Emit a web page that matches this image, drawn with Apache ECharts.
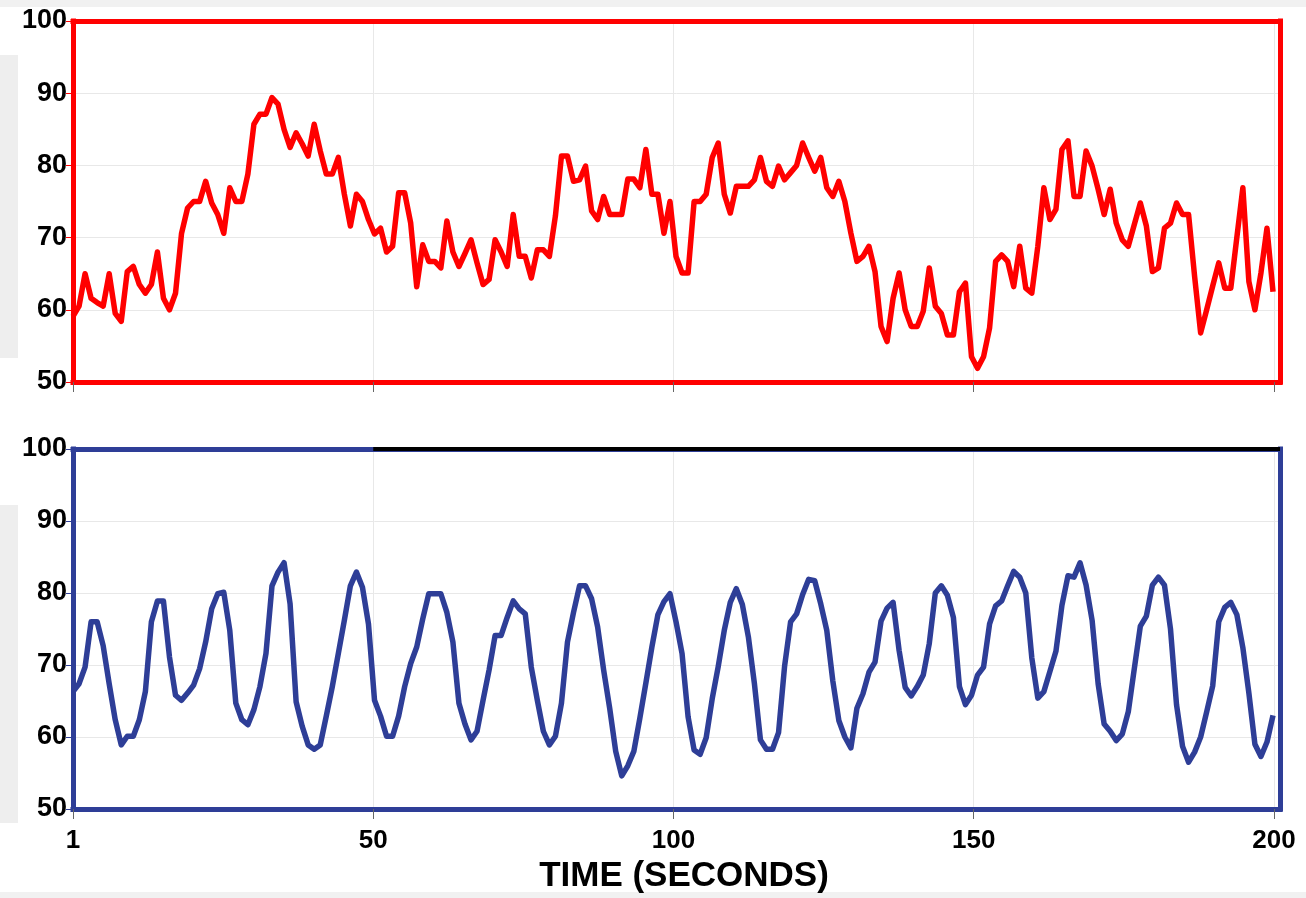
<!DOCTYPE html>
<html>
<head>
<meta charset="utf-8">
<script src="https://cdn.jsdelivr.net/npm/echarts@6/dist/echarts.min.js"></script>
<style>
html,body{margin:0;padding:0;background:#ffffff;}
#chart{width:1306px;height:898px;}
</style>
</head>
<body>
<div id="chart"></div>
<script>
// ---- data ----
const xTickValues = [0, 50, 100, 150, 200];
const xTickLabels = ['1', '50', '100', '150', '200'];
const axisTitle = 'TIME (SECONDS)';

const topSeries = [
  59.1, 60.5, 65, 61.6, 61, 60.5, 65, 59.5, 58.4, 65.3,
  66, 63.5, 62.3, 63.5, 68, 61.6, 60, 62.3, 70.6, 74.1,
  75, 75, 77.8, 74.8, 73.2, 70.6, 76.9, 75, 75, 78.8,
  85.7, 87.1, 87.1, 89.4, 88.5, 85, 82.5, 84.5, 83, 81.3,
  85.7, 82, 78.8, 78.8, 81.1, 76, 71.6, 76, 75, 72.5,
  70.5, 71.3, 68, 68.8, 76.2, 76.2, 72, 63.2, 69, 66.7,
  66.7, 65.8, 72.3, 68, 66, 67.8, 69.7, 66.5, 63.5, 64.2,
  69.7, 68, 66, 73.2, 67.4, 67.4, 64.4, 68.3, 68.3, 67.4,
  73, 81.3, 81.3, 77.8, 78, 79.9, 73.7, 72.5, 75.7, 73.2,
  73.2, 73.2, 78.1, 78.1, 76.9, 82.2, 76, 76, 70.6, 75,
  67.4, 65.1, 65.1, 75, 75, 76, 81.1, 83.1, 76, 73.4,
  77.1, 77.1, 77.1, 78, 81.1, 77.8, 77.1, 79.9, 78, 79,
  80, 83.1, 81.1, 79.2, 81.1, 76.9, 75.7, 77.8, 75, 70.6,
  66.7, 67.4, 68.8, 65.3, 57.7, 55.6, 61.6, 65.1, 60, 57.7,
  57.7, 59.8, 65.8, 60.5, 59.5, 56.5, 56.5, 62.5, 63.7, 53.5,
  51.9, 53.5, 57.5, 66.7, 67.6, 66.7, 63.2, 68.8, 63, 62.3,
  68.8, 76.9, 72.5, 73.9, 82.2, 83.4, 75.7, 75.7, 82, 79.9,
  76.7, 73.2, 76.7, 72, 69.7, 68.8, 71.8, 74.8, 71.6, 65.3,
  65.8, 71.3, 72, 74.8, 73.2, 73.2, 64.6, 56.8, 60, 63.3,
  66.5, 63, 63, 70, 76.9, 63.9, 60, 65.1, 71.3, 62.5
];

const bottomSeries = [
  66.3, 67.4, 69.7, 76, 76, 72.7, 67.4, 62.4, 58.9, 60.1,
  60.1, 62.4, 66.3, 76, 78.9, 78.9, 71.1, 65.8, 65.1, 66.1,
  67.2, 69.5, 73.2, 77.8, 79.9, 80.1, 74.8, 64.7, 62.4, 61.7,
  63.8, 67, 71.6, 81, 82.9, 84.2, 78.5, 64.9, 61.5, 58.9,
  58.3, 58.9, 62.9, 67, 71.6, 76.2, 81, 82.9, 80.8, 75.7,
  65.1, 62.9, 60.1, 60.1, 62.9, 67, 70.2, 72.5, 76.4, 79.9,
  79.9, 79.9, 77.3, 73.2, 64.7, 61.8, 59.6, 60.8, 65.1, 69.3,
  74.1, 74.1, 76.6, 78.9, 77.8, 77.1, 69.7, 65.1, 60.8, 58.9,
  60.1, 64.7, 73.2, 77.3, 81, 81, 79.2, 75.3, 69.3, 64,
  58, 54.6, 56, 58, 62.6, 67.5, 72.5, 77, 78.8, 79.9,
  76, 71.6, 62.8, 58.2, 57.6, 59.9, 65.3, 69.8, 74.8, 78.7,
  80.6, 78.4, 73.9, 67.4, 59.6, 58.3, 58.3, 60.6, 69.8, 76,
  77.1, 79.8, 81.9, 81.7, 78.5, 74.8, 67.8, 62.3, 60, 58.5,
  64, 66, 69, 70.4, 76.1, 77.9, 78.7, 72, 66.9, 65.7,
  67, 68.6, 73, 80, 81, 79.7, 76.6, 67, 64.5, 65.8,
  68.6, 69.7, 75.7, 78.2, 78.9, 81, 83, 82.2, 80, 71,
  65.4, 66.3, 69.1, 71.9, 78.3, 82.4, 82.2, 84.2, 81.1, 76.2,
  67.4, 61.8, 60.8, 59.5, 60.4, 63.5, 69.5, 75.4, 76.8, 81.1,
  82.2, 81.1, 75, 64.5, 58.7, 56.5, 57.9, 60, 63.5, 67.1,
  76, 78, 78.7, 77, 72.4, 66.1, 59, 57.3, 59.3, 63
];

// time stamps (seconds) for each sample: 1..200
const timeSeconds = topSeries.map((_, i) => i + 1);

// ---- styling ----
const RED = '#ff0000';
const BLUE = '#2e3e97';
const GRIDLINE = '#e8e8e8';
const FONT = 'Liberation Sans';

function frameLine(color) {
  return { show: true, onZero: false, lineStyle: { color: color, width: 5, cap: 'square' } };
}
function xLabelFormatter(v) {
  const k = v / 50;
  return (Number.isInteger(k) && k < xTickLabels.length) ? xTickLabels[k] : '';
}

function panelAxes(gridIndex, color, showLabels) {
  const dataAxis = {
    gridIndex: gridIndex, type: 'value', position: 'top',
    min: 1, max: 201.16,
    axisLine: frameLine(color),
    axisTick: { show: false }, axisLabel: { show: false }, splitLine: { show: false }
  };
  const visAxis = {
    gridIndex: gridIndex, type: 'value', position: 'bottom',
    min: 0, max: 201, interval: 50,
    axisLine: frameLine(color),
    axisTick: { show: true, length: 10, customValues: xTickValues, lineStyle: { color: '#666666', width: 1 } },
    axisLabel: {
      show: showLabels, customValues: xTickValues, formatter: xLabelFormatter,
      fontFamily: FONT, fontSize: 26, fontWeight: 'bold', color: '#000000', margin: 19
    },
    splitLine: { show: true, lineStyle: { color: GRIDLINE, width: 1 } }
  };
  if (showLabels) {
    visAxis.name = axisTitle;
    visAxis.nameLocation = 'middle';
    visAxis.nameGap = 50;
    visAxis.nameTextStyle = {
      fontFamily: FONT, fontSize: 35, fontWeight: 'bold', color: '#000000', padding: [0, 0, 0, 15]
    };
  }
  return [dataAxis, visAxis];
}

function panelYAxes(gridIndex, color) {
  return [
    {
      gridIndex: gridIndex, type: 'value', position: 'left',
      min: 50, max: 100, interval: 10,
      axisLine: frameLine(color),
      axisTick: { show: true, length: 7, lineStyle: { color: color, width: 1 } },
      axisLabel: { fontFamily: FONT, fontSize: 27, fontWeight: 'bold', color: '#000000', margin: 6 },
      splitLine: { show: true, lineStyle: { color: GRIDLINE, width: 1 } }
    },
    {
      gridIndex: gridIndex, type: 'value', position: 'right',
      min: 50, max: 100,
      axisLine: frameLine(color),
      axisTick: { show: false }, axisLabel: { show: false }, splitLine: { show: false }
    }
  ];
}

const chart = echarts.init(document.getElementById('chart'), null, { renderer: 'canvas' });

const option = {
  backgroundColor: '#ffffff',
  animation: false,
  graphic: [
    { type: 'rect', left: 0, top: 0, z: -10, shape: { width: 1306, height: 7 }, style: { fill: '#f1f1f1' } },
    { type: 'rect', left: 0, top: 55, z: -10, shape: { width: 18, height: 303 }, style: { fill: '#eeeeee' } },
    { type: 'rect', left: 0, top: 505, z: -10, shape: { width: 18, height: 318 }, style: { fill: '#eeeeee' } },
    { type: 'rect', left: 0, top: 892, z: -10, shape: { width: 1306, height: 6 }, style: { fill: '#f1f1f1' } }
  ],
  grid: [
    { left: 73, top: 21, width: 1207, height: 361, containLabel: false },
    { left: 73, top: 449, width: 1207, height: 360, containLabel: false }
  ],
  xAxis: [].concat(panelAxes(0, RED, false), panelAxes(1, BLUE, true)),
  yAxis: [].concat(panelYAxes(0, RED), panelYAxes(1, BLUE)),
  series: [
    {
      name: 'top', type: 'line', xAxisIndex: 0, yAxisIndex: 0,
      data: timeSeconds.map((t, i) => [t, topSeries[i]]),
      showSymbol: false, symbol: 'none', silent: true, z: 5,
      lineStyle: { color: RED, width: 5.5, join: 'round' }
    },
    {
      name: 'bottom', type: 'line', xAxisIndex: 2, yAxisIndex: 2,
      data: timeSeconds.map((t, i) => [t, bottomSeries[i]]),
      showSymbol: false, symbol: 'none', silent: true, z: 5,
      lineStyle: { color: BLUE, width: 5.5, join: 'round' }
    },
    {
      // dark segment on the lower panel's top frame (as in the original figure)
      name: 'frame', type: 'line', xAxisIndex: 3, yAxisIndex: 2,
      data: [], silent: true, z: 6,
      markLine: {
        symbol: 'none', silent: true, animation: false,
        label: { show: false },
        lineStyle: { color: '#000000', width: 4, type: 'solid' },
        data: [[{ coord: [50, 100] }, { coord: [201, 100] }]]
      }
    }
  ]
};
chart.setOption(option);
</script>
</body>
</html>
